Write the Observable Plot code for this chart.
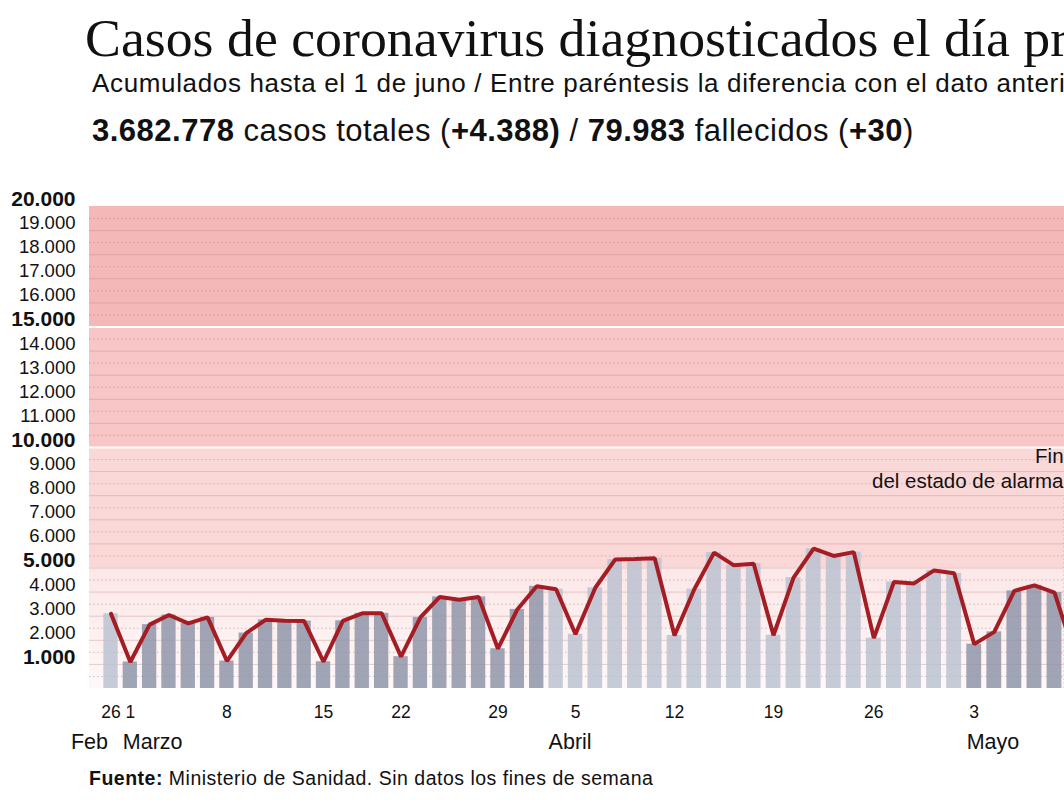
<!DOCTYPE html>
<html><head><meta charset="utf-8">
<script src="https://cdn.jsdelivr.net/npm/d3@7"></script>
<script src="https://cdn.jsdelivr.net/npm/@observablehq/plot@0.6"></script>
<style>
html,body{margin:0;padding:0;background:#fff;overflow:hidden;width:1064px;height:800px;}
#page{position:relative;width:1064px;height:800px;font-family:"Liberation Sans",Arial,sans-serif;color:#111;}
.t{position:absolute;white-space:nowrap;line-height:1;}
#title{left:85px;top:12px;font-family:"Liberation Serif","Times New Roman",serif;font-size:53.8px;color:#111;}
#sub{left:92px;top:70px;font-size:26px;letter-spacing:0.65px;}
#stats{left:92px;top:115px;font-size:31px;letter-spacing:0.5px;}
#chart{position:absolute;left:0;top:180px;}
#foot{left:89px;top:769px;font-size:19.5px;letter-spacing:0.5px;}
</style></head>
<body><div id="page">
<div class="t" id="title">Casos de coronavirus diagnosticados el día previo</div>
<div class="t" id="sub">Acumulados hasta el 1 de juno / Entre paréntesis la diferencia con el dato anterior</div>
<div class="t" id="stats"><b>3.682.778</b> casos totales (<b>+4.388)</b> / <b>79.983</b> fallecidos (<b>+30</b>)</div>
<div id="chart"></div>
<div class="t" id="foot"><b>Fuente:</b> Ministerio de Sanidad. Sin datos los fines de semana</div>
</div>
<script>
// ---- data ----
const dates = [
  "2021-02-26",
  "2021-03-01","2021-03-02","2021-03-03","2021-03-04","2021-03-05",
  "2021-03-08","2021-03-09","2021-03-10","2021-03-11","2021-03-12",
  "2021-03-15","2021-03-16","2021-03-17","2021-03-18",
  "2021-03-22","2021-03-23","2021-03-24","2021-03-25","2021-03-26",
  "2021-03-29","2021-03-30","2021-03-31","2021-04-01",
  "2021-04-05","2021-04-06","2021-04-07","2021-04-08","2021-04-09",
  "2021-04-12","2021-04-13","2021-04-14","2021-04-15","2021-04-16",
  "2021-04-19","2021-04-20","2021-04-21","2021-04-22","2021-04-23",
  "2021-04-26","2021-04-27","2021-04-28","2021-04-29","2021-04-30",
  "2021-05-03","2021-05-04","2021-05-05","2021-05-06","2021-05-07",
  "2021-05-10"
];
const casos = [
  3100,
  1100,2650,3050,2700,2950,
  1140,2300,2850,2810,2800,
  1110,2810,3120,3120,
  1320,2950,3800,3680,3800,
  1650,3280,4240,4120,
  2250,4180,5350,5370,5400,
  2200,4120,5640,5110,5180,
  2210,4600,5800,5500,5660,
  2090,4420,4360,4900,4780,
  1840,2350,4050,4280,3980,
  1400
];
const tickDates = ["2021-02-26","2021-03-01","2021-03-08","2021-03-15","2021-03-22","2021-03-29","2021-04-05","2021-04-12","2021-04-19","2021-04-26","2021-05-03"];
const monthNames = ["Feb","Marzo","Abril","Mayo"];
const monthFirstDates = ["2021-02-26","2021-03-01","2021-04-01","2021-05-03"];
const bandLimits = [0,5000,10000,15000,20000];
const yTicks = d3.range(1000, 20001, 1000);
const yBoldTicks = [1000,5000,10000,15000,20000];
const finEstadoAfter = "2021-05-07";
const finEstadoLabel = "Fin\ndel estado de alarma";
const finEstadoTop = 7900;

// ---- derived tables ----
const rows = dates.map((d,i)=>({i, date:d, v:casos[i], month:+d.slice(5,7)}));
const idx = d => dates.indexOf(d);
const tickIdx = tickDates.map(idx);
const months = monthNames.map((m,k)=>({i: idx(monthFirstDates[k]), label:m}));
const bandFill = ["url(#lowband)","#fbd8d8","#f8c6c6","#f5b8b8"];
const bands = bandLimits.slice(0,-1).map((lo,k)=>({lo, hi:bandLimits[k+1], fill:bandFill[k]}));
const fmt = d3.formatLocale({decimal:",", thousands:".", grouping:[3], currency:["","€"]}).format(",d");
const finX = idx(finEstadoAfter) + 0.5;

function gradientDefs() {
  const defs = d3.create("svg:defs");
  const g = defs.append("linearGradient").attr("id", "lowband").attr("x1", 0).attr("y1", 0).attr("x2", 0).attr("y2", 1);
  g.append("stop").attr("offset", "0%").attr("stop-color", "#fce7e7");
  g.append("stop").attr("offset", "100%").attr("stop-color", "#fef8f8");
  return defs.node();
}

const chart = Plot.plot({
  width: 1064, height: 580,
  marginLeft: 89, marginRight: 0, marginTop: 26, marginBottom: 72,
  style: {fontFamily: "'Liberation Sans', Arial, sans-serif", color: "#111", background: "transparent"},
  x: {type: "linear", domain: [0, 11, 24, 34, 48], range: [110.5, 323, 575, 773, 1054], axis: null, label: null},
  y: {domain: [0, 20000], range: [508, 26], axis: null, label: null},
  marks: [
    gradientDefs,
    Plot.rect(bands, {y1: "lo", y2: "hi", fill: d => d.fill}),
    Plot.ruleY(d3.range(500, 20000, 1000), {stroke: "#b86a6a", strokeOpacity: 0.45, strokeDasharray: "1.5,2.5"}),
    Plot.ruleY(yTicks.filter(t => t < 20000), {stroke: "#c07a7a", strokeOpacity: 0.35}),
    Plot.ruleY([10000, 15000], {stroke: "#fff", strokeWidth: 2}),
    Plot.rect(rows, {x1: d => d.i - 0.37, x2: d => d.i + 0.37, y1: 0, y2: "v",
      fill: d => d.month % 2 ? "#8b92a6" : "#b8c1cf", fillOpacity: 0.82}),
    Plot.line(rows, {x: "i", y: "v", stroke: "#a51d24", strokeWidth: 4, strokeLinejoin: "miter"}),
    Plot.ruleX([finX], {y1: 0, y2: finEstadoTop, stroke: "#444", strokeDasharray: "2,2", strokeWidth: 1.3}),
    Plot.text([finEstadoLabel], {x: finX, y: 9150, text: d => d, textAnchor: "end", dx: -1, lineAnchor: "middle", lineHeight: 1.22, fontSize: 20.5, fill: "#111"}),
    Plot.axisY(yTicks.filter(t => !yBoldTicks.includes(t)), {tickSize: 0, tickPadding: 14, fontSize: 18.5, dy: -7.5, tickFormat: fmt, label: null}),
    Plot.axisY(yBoldTicks, {tickSize: 0, tickPadding: 14, fontSize: 21, fontWeight: "bold", dy: -7.5, tickFormat: fmt, label: null}),
    Plot.axisX(tickIdx, {tickSize: 0, tickPadding: 17, fontSize: 17.5, label: null, tickFormat: i => String(+dates[i].slice(8,10))}),
    Plot.text(months.slice(0,1), {x: "i", text: "label", frameAnchor: "bottom", dy: 60, dx: -3, textAnchor: "end", fontSize: 21.5}),
    Plot.text(months.slice(1), {x: "i", text: "label", frameAnchor: "bottom", dy: 60, dx: -7.5, textAnchor: "start", fontSize: 21.5})
  ]
});
document.getElementById("chart").appendChild(chart);
</script>
</body></html>
